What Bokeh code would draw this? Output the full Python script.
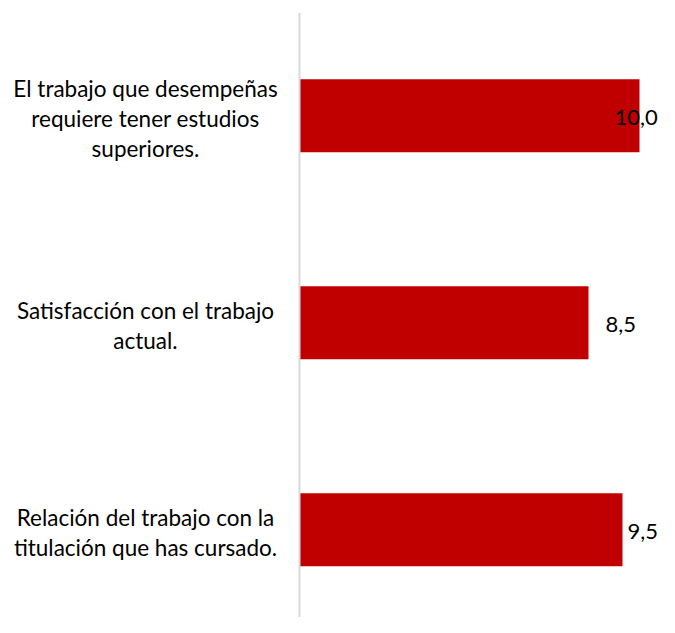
from bokeh.plotting import figure
from bokeh.models import ColumnDataSource, Range1d, FactorRange, Span
from bokeh.transform import dodge
from bokeh.core.properties import value
from bokeh.embed import file_html
from bokeh.resources import INLINE

categories = [
    "El trabajo que desempeñas\nrequiere tener estudios\nsuperiores.",
    "Satisfacción con el trabajo\nactual.",
    "Relación del trabajo con la\ntitulación que has cursado.",
]
values = [10.0, 8.5, 9.5]
label_texts = [f"{v:.1f}".replace(".", ",") for v in values]
label_dx = [-25, 17, 5]  # pixel nudges of the value labels (style)

FONT = "Lato"
BAR_COLOR = "#C00000"
PX_PER_UNIT = 34.0
AXIS_X_PX = 299       # axis position from the frame's left edge
FIG_W, FIG_H = 659, 617
CAT_CENTER_PX = 145   # centre of the category labels from the frame's left edge
FRAME_TOP = 12
BAND_PX = 207.0
TOP_BAR_CENTER_PX = 115.2

frame_h = FIG_H - FRAME_TOP
pad = (frame_h / BAND_PX - len(categories)) / 2.0
natural_center = FRAME_TOP + (0.5 + pad) * BAND_PX
shift = -(TOP_BAR_CENTER_PX - natural_center) / BAND_PX

src = ColumnDataSource(dict(cat=categories, val=values, lab=label_texts, dx=label_dx))
cat_x = (CAT_CENTER_PX - AXIS_X_PX) / PX_PER_UNIT
csrc = ColumnDataSource(dict(cat=categories, x=[cat_x] * len(categories)))

yr = FactorRange(factors=list(reversed(categories)),
                 range_padding=pad, range_padding_units="absolute")

p = figure(
    width=FIG_W, height=FIG_H,
    y_range=yr,
    x_range=Range1d(-AXIS_X_PX / PX_PER_UNIT, (FIG_W - AXIS_X_PX) / PX_PER_UNIT),
    output_backend="svg", toolbar_location=None,
    min_border_left=0, min_border_right=0, min_border_top=FRAME_TOP, min_border_bottom=0,
)
p.outline_line_color = None
p.xgrid.visible = False
p.ygrid.visible = False
p.xaxis.visible = False
p.yaxis.visible = False

# vertical category axis line at x = 0
p.add_layout(Span(location=0, dimension="height", line_color="#D9D9D9", line_width=2))

ycat = dodge("cat", shift, range=yr)

p.hbar(y=ycat, left=0, right="val", height=0.353, color=BAR_COLOR, line_color=None, source=src)

p.text(x="val", y=ycat, text="lab", source=src, x_offset="dx", y_offset=2,
       text_align="left", text_baseline="middle", text_font=value(FONT),
       text_font_size="22px", text_color="#000000")

p.text(x="x", y=ycat, text="cat", source=csrc, y_offset=3,
       text_align="center", text_baseline="middle", text_font=value(FONT),
       text_font_size="22.5px", text_color="#000000", text_line_height=1.12)

open("out.html", "w").write(file_html(p, INLINE))
